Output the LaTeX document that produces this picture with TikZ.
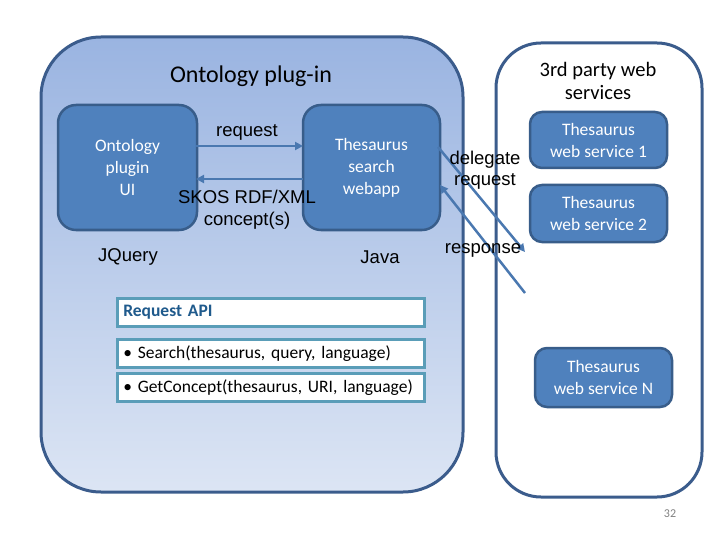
\documentclass[tikz,border=0pt]{standalone}
\usepackage{fontspec}
\setmainfont{Carlito}
\newfontfamily\arialf{Liberation Sans}
\usetikzlibrary{arrows.meta}
\definecolor{bord}{HTML}{3B5C8C}
\definecolor{boxfill}{HTML}{4F81BD}
\definecolor{boxbord}{HTML}{385D8A}
\definecolor{gradtop}{HTML}{9AB4E1}
\definecolor{gradbot}{HTML}{DCE5F4}
\definecolor{apibord}{HTML}{5A9DB8}
\definecolor{apitext}{HTML}{1F5A8C}
\definecolor{arrowc}{HTML}{4A78B0}
\tikzset{
  inner/.style={draw=boxbord, line width=2.5pt, fill=boxfill, rounded corners=18pt, text=white, align=center, inner sep=0pt, font=\fontsize{17.5}{22}\selectfont},
  apibox/.style={draw=apibord, line width=2.5pt, fill=white, minimum width=307pt, minimum height=28pt, anchor=north west, text width=295pt, align=left, inner sep=0pt, font=\fontsize{17.5}{20}\selectfont},
  conn/.style={draw=arrowc, line width=2.5pt, -{Triangle[length=8pt,width=8pt]}},
  alabel/.style={font=\arialf\fontsize{18.5}{22}\selectfont, align=center, inner sep=0pt}
}
\begin{document}
\begin{tikzpicture}[x=1pt,y=-1pt]
\useasboundingbox (0,0) rectangle (720,540);
% right container
\draw[bord, line width=3pt, fill=white, rounded corners=45pt] (496,43) rectangle (702,497);
\node[font=\fontsize{20.5}{23}\selectfont, align=center] (third) at (598,81) {3rd party web\\services};
% left container
\draw[bord, line width=3pt, top color=gradtop, bottom color=gradbot, rounded corners=60pt] (41,37) rectangle (463,492);
\node[font=\fontsize{24}{28}\selectfont] (title) at (251,76) {Ontology plug-in};
% inner boxes
\node[inner, minimum width=139pt, minimum height=125pt] (ui) at (127.5,167.5) {Ontology\\plugin\\UI};
\node[inner, minimum width=137pt, minimum height=125pt] (web) at (371.5,167.5) {Thesaurus\\search\\webapp};
\coordinate (reqA) at (196,146);
\coordinate (reqB) at (303,146);
\draw[conn] (reqA) -- (reqB);
\coordinate (skA) at (303,179);
\coordinate (skB) at (196,179);
\draw[conn] (skA) -- (skB);
\node[alabel] (reqlbl) at (247,132) {request};
\node[alabel] (sklbl) at (247,210) {SKOS RDF/XML\\concept(s)};
\node[alabel] (jq) at (128,257) {JQuery};
\node[alabel] (java) at (380,257) {Java};
% web services
\node[inner, minimum width=137pt, minimum height=56pt, rounded corners=12pt] (ws1) at (598.5,140) {Thesaurus\\web service 1};
\node[inner, minimum width=137pt, minimum height=57pt, rounded corners=12pt] (ws2) at (598.5,213.5) {Thesaurus\\web service 2};
\node[inner, minimum width=137pt, minimum height=59pt, rounded corners=12pt] (wsn) at (603.5,377.5) {Thesaurus\\web service N};
% API boxes
\node[apibox, font=\bfseries\fontsize{17.5}{20}\selectfont, text=apitext] (api) at (116,297) {Request API};
\node[apibox] (s1) at (116,338) {• Search(thesaurus, query, language)};
\node[apibox] (s2) at (116,372) {• GetConcept(thesaurus, URI, language)};
% delegate / response
\coordinate (dA) at (438,147);
\coordinate (dB) at (525,252);
\coordinate (rA) at (525,293);
\coordinate (rB) at (440,185);
\draw[conn] (dA) -- (dB);
\draw[conn] (rA) -- (rB);
\node[alabel, font=\arialf\fontsize{18.5}{21}\selectfont] (dl) at (485,170) {delegate\\request};
\node[alabel] (rl) at (483,250) {response};
\node[text=gray, font=\fontsize{12}{14}\selectfont] (pg) at (670,514) {32};
\end{tikzpicture}
\end{document}
